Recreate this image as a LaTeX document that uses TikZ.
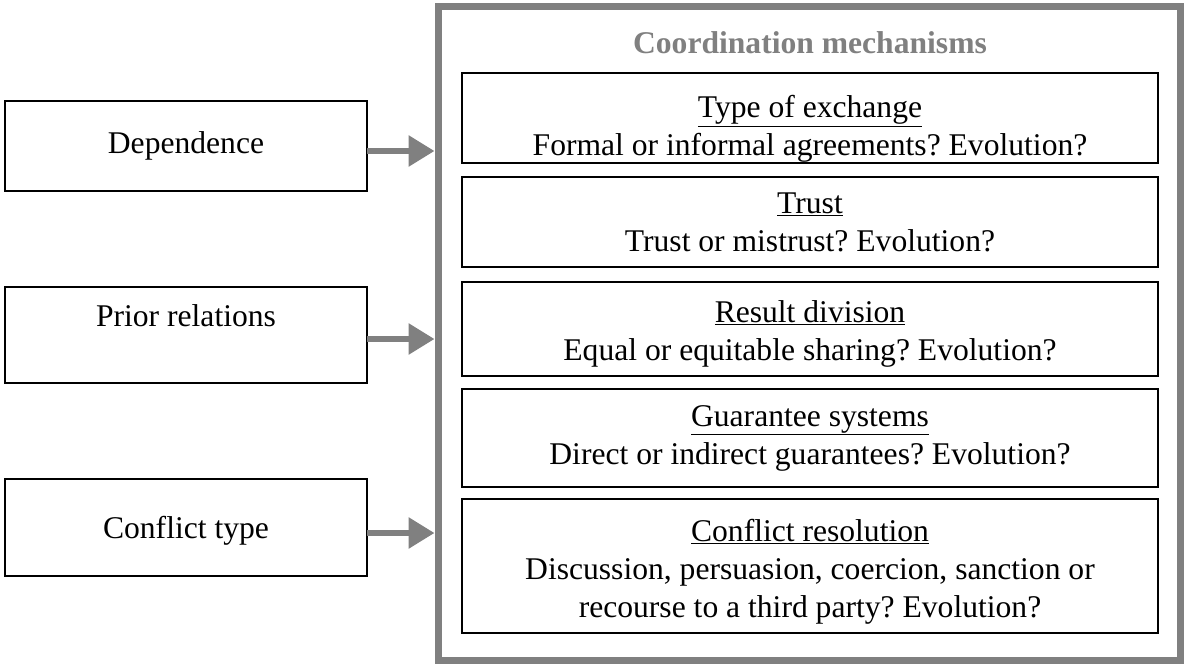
\documentclass[tikz,border=0pt]{standalone}
\usepackage{fontspec}
\setmainfont{Liberation Serif}
\usetikzlibrary{arrows.meta}
\definecolor{framegray}{HTML}{808080}
\tikzset{
  every node/.style={font=\fontsize{31.6}{38}\selectfont\frenchspacing, inner sep=0pt, outer sep=0pt},
  leftbox/.style={draw=black, line width=1.5pt, minimum width=362pt, align=center},
  mechbox/.style={draw=black, line width=1.5pt, minimum width=696pt, align=center},
  frame/.style={draw=framegray, line width=7pt, minimum width=742pt, minimum height=654pt},
  flow/.style={draw=framegray, line width=6pt, -{Triangle[length=26pt,width=30pt]}},
  titletext/.style={text=framegray, font=\fontsize{31.6}{38}\selectfont\bfseries}
}
\begin{document}
\begin{tikzpicture}[x=1pt,y=-1pt]
\useasboundingbox (0,0) rectangle (1184,664);
% outer frame
\node[frame, outer sep=3.5pt] (frame) at (809,333.5) {};
\node[titletext] (title) at (810,43) {Coordination mechanisms};
% mechanism boxes
\node[mechbox, minimum height=90pt] (b1) at (810,118) {\rule{0pt}{44pt}\underline{Type of exchange}\\Formal or informal agreements? Evolution?};
\node[mechbox, minimum height=90pt] (b2) at (810,222) {\underline{Trust}\\Trust or mistrust? Evolution?};
\node[mechbox, minimum height=94pt] (b3) at (810,329) {\rule{0pt}{32pt}\underline{Result division}\\Equal or equitable sharing? Evolution?};
\node[mechbox, minimum height=98pt] (b4) at (810,438) {\underline{Guarantee systems}\\Direct or indirect guarantees? Evolution?};
\node[mechbox, minimum height=134pt] (b5) at (810,566) {\rule{0pt}{34pt}\underline{Conflict resolution}\\Discussion, persuasion, coercion, sanction or\\recourse to a third party? Evolution?};
% left boxes
\node[leftbox, minimum height=90pt] (dep) at (186,146) {Dependence};
\node[leftbox, minimum height=96pt] (prior) at (186,335) {Prior relations\\\mbox{}};
\node[leftbox, minimum height=97pt] (conf) at (186,527.5) {\rule{0pt}{28pt}Conflict type};
% arrows
\draw[flow] ([yshift=-5pt]dep.east) -- ([yshift=-5pt]dep.east -| frame.west);
\draw[flow] ([yshift=-4pt]prior.east) -- ([yshift=-4pt]prior.east -| frame.west);
\draw[flow] ([yshift=-5.5pt]conf.east) -- ([yshift=-5.5pt]conf.east -| frame.west);
\end{tikzpicture}
\end{document}
